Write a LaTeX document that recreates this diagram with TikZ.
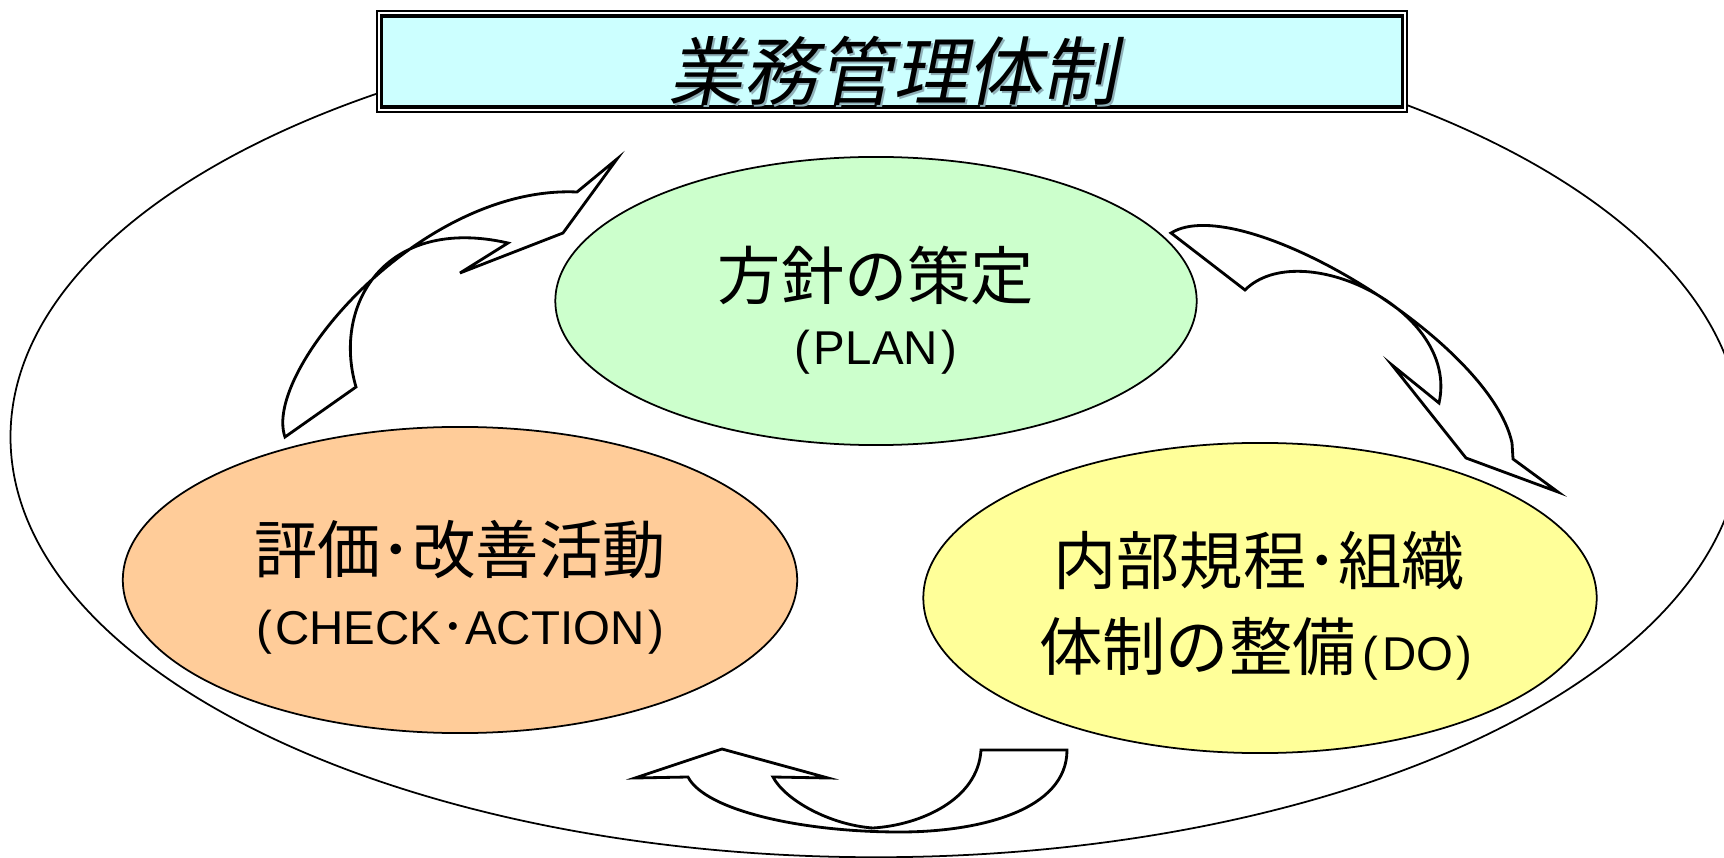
\documentclass[tikz,border=0pt]{standalone}
\usepackage{fontspec}
\setmainfont{Liberation Sans}
\newfontfamily\jp{Noto Sans CJK JP}
\newfontfamily\jpt[FakeSlant=0.2]{Noto Sans CJK JP}
\usetikzlibrary{shapes.geometric}
\definecolor{plangreen}{HTML}{CCFFCC}
\definecolor{checkorange}{HTML}{FFCC99}
\definecolor{doyellow}{HTML}{FFFF99}
\definecolor{titlecyan}{HTML}{CCFFFF}
\definecolor{shadowgray}{HTML}{8FB0B8}
\tikzset{
  phase/.style={ellipse, draw=black, line width=0.5pt, inner sep=0pt},
  bigtext/.style={font=\fontsize{18}{20}\selectfont\jp, inner sep=0pt},
  smalltext/.style={font=\fontsize{13.5}{16}\selectfont, inner sep=0pt},
  blockarrow/.style={draw=black, fill=white, line width=0.8pt, line join=miter},
}
\newcommand{\jpar}[1]{(\kern1pt#1\kern1pt)}
\begin{document}
\begin{tikzpicture}[x=0.01cm, y=-0.01cm]
\useasboundingbox (0,0) rectangle (1724,858);
\clip (0,0) rectangle (1724,858);
% outer ellipse
\node[ellipse, draw=black, line width=0.5pt, minimum width=17.30cm, minimum height=8.40cm, inner sep=0pt] (outer) at (876,437) {};
% title box
\node[draw=black, fill=white, line width=0.6pt, minimum width=10.30cm, minimum height=1.01cm, inner sep=0pt] (titleout) at (892,61.5) {};
\node[draw=black, fill=titlecyan, line width=1pt, minimum width=10.20cm, minimum height=0.91cm, inner sep=0pt] (titlein) at (892,61.5) {};
\node[font=\fontsize{21.3}{24}\selectfont\jpt, text=shadowgray, inner sep=0pt] (titleshadow) at (895,73) {業務管理体制};
\node[font=\fontsize{21.3}{24}\selectfont\jpt, inner sep=0pt] (title) at (893,71) {業務管理体制};
% phase ellipses
\node[phase, fill=plangreen, minimum width=6.41cm, minimum height=2.88cm] (plan) at (876,301) {};
\node[phase, fill=checkorange, minimum width=6.74cm, minimum height=3.06cm] (check) at (460,580) {};
\node[phase, fill=doyellow, minimum width=6.73cm, minimum height=3.10cm] (do) at (1260,598) {};
% texts
\node[bigtext] (plan1) at (876,275) {方針の策定};
\node[smalltext] (plan2) at (876,352) {\jpar{PLAN}};
\node[bigtext] (check1) at (460,550) {評価･改善活動};
\node[smalltext] (check2) at (460,632) {\jpar{CHECK{\jp ･}ACTION}};
\node[bigtext] (do1) at (1259,561) {内部規程･組織};
\node[inner sep=0pt] (do2) at (1256,649) {{\fontsize{18}{20}\selectfont\jp 体制の整備}\hspace{2pt}{\fontsize{13.5}{16}\selectfont\jpar{DO}}};
% curved block arrows
\draw[blockarrow] (285,437) .. controls (262,372) and (420,185) .. (577,192)
  -- (617,159) -- (563,233) -- (460,273) -- (508,243)
  .. controls (385,215) and (332,305) .. (356,387) -- cycle;
\draw[blockarrow] (1171,233) .. controls (1240,190) and (1490,340) .. (1512,443)
  -- (1513,459) -- (1558,492) -- (1466,458) -- (1392,365) -- (1439,403)
  .. controls (1460,310) and (1300,235) .. (1245,290) -- cycle;
\draw[blockarrow] (981,750) -- (1067,750)
  .. controls (1067,810) and (980,832) .. (900,832)
  .. controls (800,832) and (705,810) .. (688,777)
  -- (635,778) -- (722,749) -- (828,778) -- (773,777)
  .. controls (785,800) and (830,825) .. (873,828)
  .. controls (920,825) and (978,800) .. (981,750) -- cycle;
\end{tikzpicture}
\end{document}
